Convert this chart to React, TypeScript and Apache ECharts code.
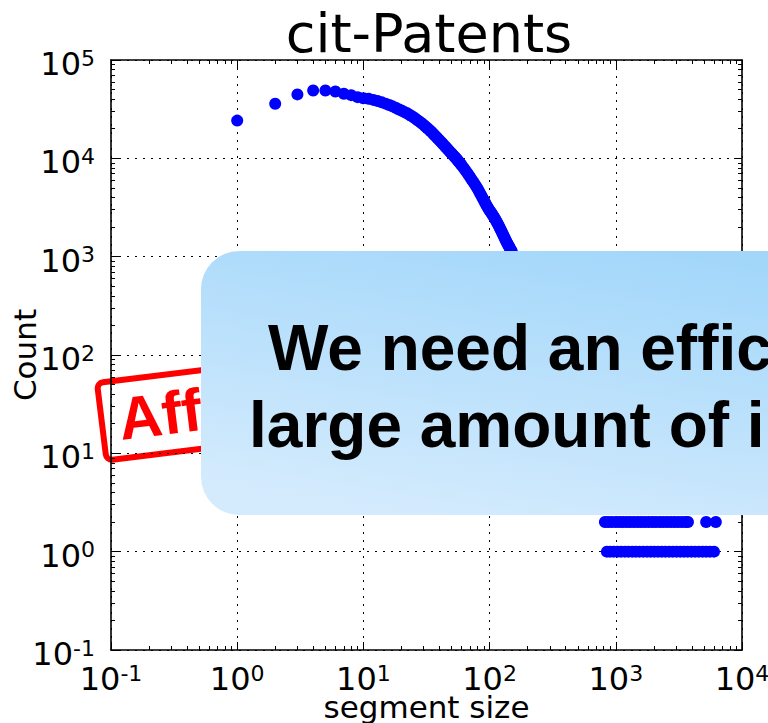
import React, { useEffect, useRef } from 'react';
import * as echarts from 'echarts';

const FONT = '"DejaVu Sans", "Noto Sans", sans-serif';
const SLIDE_FONT = '"Liberation Sans", Arial, sans-serif';

const TITLE = 'cit-Patents';
const X_NAME = 'segment size';
const Y_NAME = 'Count';

// main curve: segment size -> count
const headSizes = [
  1, 2, 3, 4, 5, 6, 7, 8, 9, 10,
  11, 12, 13, 14, 15, 16, 17, 18, 19, 20,
  21, 22, 23, 24, 25, 26, 27, 28, 29, 30,
  31, 32, 33, 34, 35, 36, 37, 38, 39, 40,
  41, 42, 43, 44, 45, 46, 47, 48, 49, 50,
  51, 52, 53, 54, 55, 56, 57, 58, 59, 60,
  62, 64, 66, 68, 70, 72, 74, 76, 78, 80,
  82, 84, 86, 88, 90, 92, 94, 96, 98, 100,
  102, 104, 106, 108, 110, 112, 114, 116, 118, 120,
  122, 124, 126, 128, 130, 132, 134, 136, 138, 140,
  142, 144, 146, 148, 150,
  160, 175, 190, 210, 230, 260, 290, 330, 370, 420, 480, 550, 620, 700, 780, 850,
];
const headCounts = [
  24200, 35900, 44700, 49000, 49000, 47900, 45400, 43900, 41900, 40900,
  40300, 39300, 38200, 37100, 36000, 34900, 33800, 32700, 31600, 30600,
  29700, 28900, 27900, 27000, 26100, 25200, 24300, 23500, 22700, 21900,
  21100, 20400, 19700, 19000, 18300, 17600, 17000, 16400, 15850, 15300,
  14800, 14300, 13850, 13400, 13000, 12600, 12200, 11850, 11500, 11200,
  10900, 10600, 10300, 10050, 9800, 9520, 9250, 9000, 8750, 8500,
  8050, 7600, 7200, 6820, 6450, 6100, 5800, 5500, 5220, 4950,
  4680, 4420, 4180, 3960, 3750, 3560, 3380, 3220, 3080, 2950,
  2850, 2750, 2640, 2540, 2450, 2350, 2250, 2160, 2070, 1980,
  1900, 1820, 1740, 1670, 1600, 1540, 1480, 1420, 1370, 1320,
  1280, 1240, 1200, 1160, 1130,
  950, 760, 600, 450, 340, 230, 160, 100, 65, 40, 24, 14, 9, 6, 4, 3,
];
// large segments seen twice
const tailSizesTwice = [
  820, 870, 930, 1000, 1070, 1140, 1220, 1300, 1390, 1490, 1590, 1700,
  1820, 1950, 2080, 2230, 2380, 2550, 2730, 2920, 3120, 3340, 3570, 3730,
  5200, 6200,
];
// large segments seen once
const tailSizesOnce = [
  850, 900, 960, 1030, 1100, 1180, 1260, 1350, 1440, 1540, 1650, 1770,
  1890, 2020, 2160, 2310, 2470, 2650, 2830, 3030, 3240, 3470, 3710, 3970,
  4250, 4550, 4870, 5210, 5580, 6000,
];

const X_MIN = 0.1;
const X_MAX = 10000;
const Y_MIN = 0.1;
const Y_MAX = 100000;

const OVERLAY_LINES = ['We need an effic', 'large amount of in'];
const STAMP_TEXT = 'Aff';

const expLabel = (v: number) => {
  const e = Math.round(Math.log10(v));
  return `{b|10}{s|${e}}`;
};

const labelRich = {
  b: { fontFamily: FONT, fontSize: 32, color: '#000', lineHeight: 34 },
  s: { fontFamily: FONT, fontSize: 22, color: '#000', lineHeight: 22, verticalAlign: 'top' },
};

function axisCommon(kind: 'x' | 'y', main: boolean, position: string) {
  return {
    type: 'log',
    logBase: 10,
    min: kind === 'x' ? X_MIN : Y_MIN,
    max: kind === 'x' ? X_MAX : Y_MAX,
    splitNumber: kind === 'x' ? 5 : 6,
    position,
    nameMoveOverlap: false,
    axisLine: { show: true, onZero: false, lineStyle: { color: '#000', width: 1.6 } },
    axisTick: { show: true, inside: true, length: 8, lineStyle: { color: '#000', width: 1 } },
    minorTick: { show: true, splitNumber: 9, length: 4, lineStyle: { color: '#000', width: 1 } },
    splitLine: main
      ? { show: true, lineStyle: { color: '#000', width: 1, type: [2, 6] } }
      : { show: false },
    axisLabel: main
      ? {
          show: true,
          formatter: expLabel,
          fontFamily: FONT,
          fontSize: 32,
          color: '#000',
          rich: labelRich,
          margin: kind === 'x' ? 12 : 16,
          padding: kind === 'y' ? [8, 0, 0, 0] : 0,
          showMinLabel: true,
          showMaxLabel: true,
          hideOverlap: false,
          interval: 0,
        }
      : { show: false },
  };
}

export default function App() {
  const ref = useRef<HTMLDivElement>(null);

  useEffect(() => {
    if (!ref.current) return;
    const chart = echarts.init(ref.current, undefined, { renderer: 'svg' });

    const data: number[][] = [];
    headSizes.forEach((s, i) => data.push([s, headCounts[i]]));
    tailSizesTwice.forEach((s) => data.push([s, 2]));
    tailSizesOnce.forEach((s) => data.push([s, 1]));

    chart.setOption({
      animation: false,
      backgroundColor: '#fff',
      title: {
        text: TITLE,
        left: 429,
        top: 6,
        textAlign: 'center',
        padding: 0,
        textStyle: { fontFamily: FONT, fontSize: 54, fontWeight: 'normal', color: '#000' },
      },
      grid: {
        left: 111,
        right: 26,
        top: 60,
        bottom: 73,
        containLabel: false,
        outerBoundsMode: 'none',
      },
      xAxis: [
        {
          ...axisCommon('x', true, 'bottom'),
          name: X_NAME,
          nameLocation: 'middle',
          nameGap: 41,
          nameTextStyle: { fontFamily: FONT, fontSize: 31, color: '#000' },
        },
        axisCommon('x', false, 'top'),
      ],
      yAxis: [
        {
          ...axisCommon('y', true, 'left'),
          name: Y_NAME,
          nameLocation: 'middle',
          nameGap: 71,
          nameTextStyle: { fontFamily: FONT, fontSize: 31, color: '#000' },
        },
        axisCommon('y', false, 'right'),
      ],
      series: [
        {
          type: 'scatter',
          xAxisIndex: 0,
          yAxisIndex: 0,
          data,
          symbol: 'circle',
          symbolSize: 12,
          itemStyle: { color: '#0000ff', opacity: 1 },
          z: 3,
        },
      ],
      graphic: [
        {
          type: 'group',
          x: 97,
          y: 383,
          rotation: (7 * Math.PI) / 180,
          z: 100,
          children: [
            {
              type: 'rect',
              shape: { x: 0, y: 0, width: 240, height: 78, r: 6 },
              style: { fill: 'transparent', stroke: '#ff0000', lineWidth: 6 },
            },
            {
              type: 'text',
              x: 17,
              y: 39,
              style: {
                text: STAMP_TEXT,
                fill: '#ff0000',
                fontFamily: SLIDE_FONT,
                fontWeight: 'bold',
                fontSize: 60,
                verticalAlign: 'middle',
                textVerticalAlign: 'middle',
              },
            },
          ],
        },
        {
          type: 'rect',
          x: 201,
          y: 251,
          z: 110,
          shape: { width: 640, height: 264, r: 38 },
          style: {
            fill: new echarts.graphic.LinearGradient(0.7, 0, 0.3, 1, [
              { offset: 0, color: '#a3d7fa' },
              { offset: 1, color: '#d4ebfd' },
            ]),
          },
        },
        {
          type: 'text',
          x: 268,
          y: 348,
          z: 111,
          style: {
            text: OVERLAY_LINES[0],
            fill: '#000',
            fontFamily: SLIDE_FONT,
            fontWeight: 'bold',
            fontSize: 64,
            verticalAlign: 'middle',
            textVerticalAlign: 'middle',
          },
        },
        {
          type: 'text',
          x: 249,
          y: 425,
          z: 111,
          style: {
            text: OVERLAY_LINES[1],
            fill: '#000',
            fontFamily: SLIDE_FONT,
            fontWeight: 'bold',
            fontSize: 64,
            verticalAlign: 'middle',
            textVerticalAlign: 'middle',
          },
        },
      ],
    });

    return () => chart.dispose();
  }, []);

  return (
    <div
      ref={ref}
      style={{ position: 'absolute', left: 0, top: 0, width: 768, height: 723, background: '#fff' }}
    />
  );
}
